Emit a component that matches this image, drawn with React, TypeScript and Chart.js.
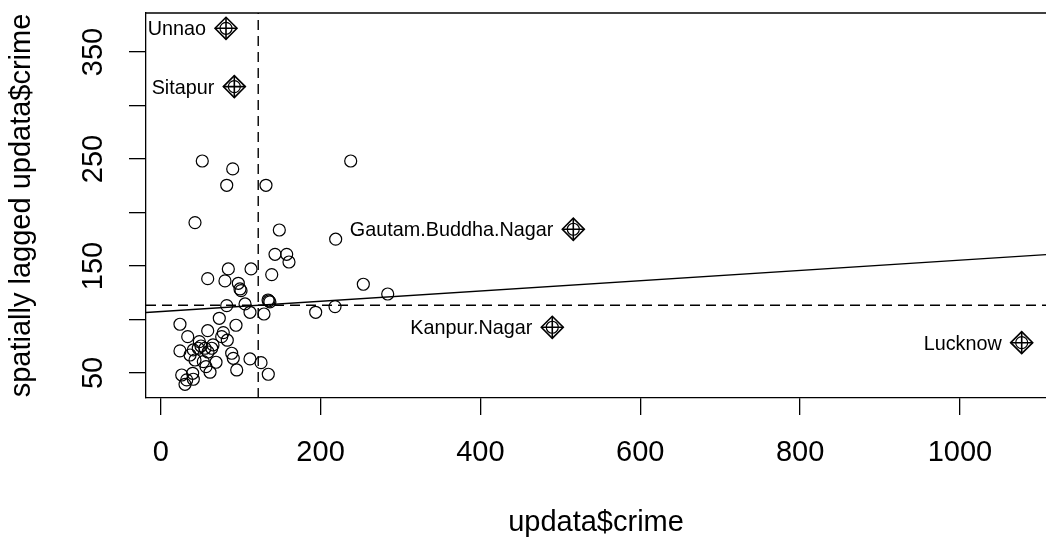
import React, { useEffect, useRef } from 'react';
import { Chart, registerables } from 'chart.js';

Chart.register(...registerables);

// updata$crime (x) and spatially lagged crime (y) for ordinary districts
const crimeX = [
  52.0, 90.1, 82.6, 131.7, 42.9, 148.4, 143.0, 157.6, 160.5, 84.6,
  113.0, 138.9, 58.8, 80.4, 97.1, 99.2, 100.5, 82.6, 105.5, 134.3,
  136.6, 135.4, 111.7, 129.2, 73.3, 193.9, 24.1, 58.8, 94.2, 33.8,
  78.3, 76.3, 83.3, 48.3, 47.0, 55.4, 63.8, 40.8, 24.1, 36.7,
  42.9, 53.3, 69.2, 88.8, 90.8, 95.1, 111.7, 125.5, 134.6, 61.7,
  56.7, 26.3, 40.0, 32.5, 40.8, 30.4, 50.4, 65.4, 59.2, 237.7,
  218.9, 253.5, 284.0, 218.1,
];
const laggedY = [
  248.1, 240.7, 225.4, 225.4, 190.5, 183.6, 160.9, 160.9, 153.7, 147.2,
  147.2, 141.9, 138.1, 136.0, 133.8, 128.5, 126.9, 112.9, 114.5, 118.2,
  116.4, 117.3, 106.7, 105.1, 101.1, 106.7, 95.5, 89.5, 94.6, 83.9,
  87.7, 83.9, 80.6, 79.3, 73.1, 73.1, 73.1, 71.5, 70.6, 66.8,
  62.1, 60.6, 60.0, 68.4, 63.7, 52.8, 63.1, 59.6, 48.8, 50.7,
  55.9, 48.1, 49.7, 43.5, 44.1, 39.4, 75.2, 76.2, 69.6, 248.1,
  175.0, 132.9, 123.8, 112.0,
];

// influential observations
const inflNames = ['Unnao', 'Sitapur', 'Gautam.Buddha.Nagar', 'Kanpur.Nagar', 'Lucknow'];
const inflX = [81.7, 92.1, 516.2, 489.9, 1077.2];
const inflY = [372.1, 317.6, 184.3, 92.7, 78.3];

// axes
const xTicks = [0, 200, 400, 600, 800, 1000];
const xTickLabels = ['0', '200', '400', '600', '800', '1000'];
const yTicks = [50, 100, 150, 200, 250, 300, 350];
const yTickLabels = ['50', '', '150', '', '250', '', '350'];
const xLimits = [-18.4, 1107.6];
const yLimits = [26.6, 386.4];

// reference lines
const meanX = 122;
const meanLag = 113.3;
const lmIntercept = 107.4;
const lmSlope = 0.048;

const FONT = '"Liberation Sans", Arial, sans-serif';

const labelsPlugin = {
  id: 'moranLabels',
  afterDatasetsDraw(chart: any) {
    const { ctx, chartArea: a, scales } = chart;
    const x = scales.x;
    const y = scales.y;
    ctx.save();
    ctx.strokeStyle = '#000';
    ctx.lineWidth = 1.3;
    ctx.beginPath();
    ctx.moveTo(a.left, a.top);
    ctx.lineTo(a.right, a.top);
    ctx.stroke();
    ctx.fillStyle = '#000';
    ctx.font = `19.8px ${FONT}`;
    ctx.textAlign = 'right';
    ctx.textBaseline = 'alphabetic';
    inflNames.forEach((n, i) => {
      const px = x.getPixelForValue(inflX[i]);
      const py = y.getPixelForValue(inflY[i]);
      ctx.fillText(n, px - 20, py + 7);
    });
    ctx.restore();
  },
};

export default function App() {
  const ref = useRef<HTMLCanvasElement | null>(null);

  useEffect(() => {
    document.body.style.margin = '0';
    const canvas = ref.current;
    if (!canvas) return;

    const pts = crimeX.map((v, i) => ({ x: v, y: laggedY[i] }));
    const infl = inflX.map((v, i) => ({ x: v, y: inflY[i] }));
    const lmLine = xLimits.map((v) => ({ x: v, y: lmIntercept + lmSlope * v }));
    const vLine = yLimits.map((v) => ({ x: meanX, y: v }));
    const hLine = xLimits.map((v) => ({ x: v, y: meanLag }));

    const circle = {
      pointStyle: 'circle',
      pointRadius: 6,
      pointBorderWidth: 1.2,
      pointBorderColor: '#000',
      pointBackgroundColor: 'rgba(0,0,0,0)',
      showLine: false,
    };

    const chart = new Chart(canvas, {
      type: 'scatter',
      data: {
        datasets: [
          { data: pts, ...circle } as any,
          { data: infl, ...circle } as any,
          {
            data: infl,
            pointStyle: 'rectRot',
            pointRadius: 11,
            pointBorderWidth: 1.6,
            pointBorderColor: '#000',
            pointBackgroundColor: 'rgba(0,0,0,0)',
            showLine: false,
          } as any,
          {
            data: infl,
            pointStyle: 'cross',
            pointRadius: 11,
            pointBorderWidth: 1.6,
            pointBorderColor: '#000',
            showLine: false,
          } as any,
          {
            type: 'line',
            data: lmLine,
            borderColor: '#000',
            borderWidth: 1.4,
            pointRadius: 0,
            fill: false,
          } as any,
          {
            type: 'line',
            data: vLine,
            borderColor: '#000',
            borderWidth: 1.4,
            borderDash: [10, 6],
            pointRadius: 0,
            fill: false,
          } as any,
          {
            type: 'line',
            data: hLine,
            borderColor: '#000',
            borderWidth: 1.4,
            borderDash: [10, 6],
            pointRadius: 0,
            fill: false,
          } as any,
        ],
      },
      options: {
        animation: false,
        responsive: false,
        devicePixelRatio: 1,
        events: [],
        layout: { autoPadding: false, padding: { top: 13, left: 0, right: 0, bottom: 0 } },
        plugins: {
          legend: { display: false },
          tooltip: { enabled: false },
        },
        scales: {
          x: {
            type: 'linear',
            min: xLimits[0],
            max: xLimits[1],
            afterBuildTicks: (s: any) => {
              s.ticks = xTicks.map((v) => ({ value: v }));
            },
            afterFit: (s: any) => {
              s.height = 145;
              s.paddingLeft = 0;
              s.paddingRight = 0;
            },
            grid: {
              drawOnChartArea: false,
              drawTicks: true,
              tickLength: 17,
              color: '#000',
              lineWidth: 1.3,
            },
            border: { display: true, color: '#000', width: 1.3 },
            ticks: {
              autoSkip: false,
              maxRotation: 0,
              minRotation: 0,
              padding: 20.3,
              color: '#000',
              font: { family: FONT, size: 29 },
              callback: (_v: any, i: number) => xTickLabels[i],
            },
            title: {
              display: true,
              text: 'updata$crime',
              color: '#000',
              font: { family: FONT, size: 29 },
              padding: { top: 0, bottom: 2.6 },
            },
          },
          y: {
            type: 'linear',
            min: yLimits[0],
            max: yLimits[1],
            afterBuildTicks: (s: any) => {
              s.ticks = yTicks.map((v) => ({ value: v }));
            },
            afterFit: (s: any) => {
              s.width = 146;
              s.paddingTop = 0;
              s.paddingBottom = 0;
            },
            grid: {
              drawOnChartArea: false,
              drawTicks: true,
              tickLength: 17,
              color: '#000',
              lineWidth: 1.3,
            },
            border: { display: true, color: '#000', width: 1.3 },
            ticks: {
              autoSkip: false,
              minRotation: 90,
              maxRotation: 90,
              crossAlign: 'center',
              padding: 10.8,
              color: '#000',
              font: { family: FONT, size: 29 },
              callback: (_v: any, i: number) => yTickLabels[i],
            },
            title: {
              display: true,
              text: 'spatially lagged updata$crime',
              color: '#000',
              font: { family: FONT, size: 29 },
              padding: { top: 4.6, bottom: 0 },
            },
          },
        },
      } as any,
      plugins: [labelsPlugin],
    });

    return () => chart.destroy();
  }, []);

  return (
    <div style={{ width: 1046, height: 543, background: '#fff' }}>
      <canvas ref={ref} width={1046} height={543} style={{ display: 'block' }} />
    </div>
  );
}
